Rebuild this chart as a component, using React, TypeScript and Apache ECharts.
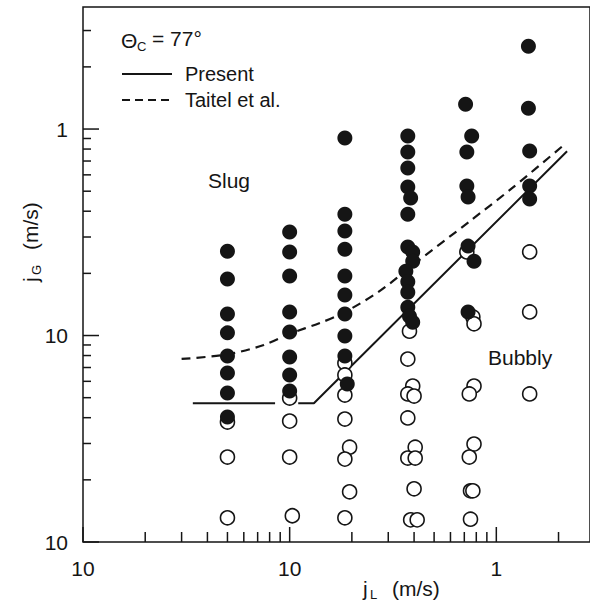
import React, { useEffect, useRef } from "react";
import * as echarts from "echarts";

const INK = "#151515";
const FONT = "'Liberation Sans', Arial, sans-serif";

const X_MIN = 0.01;
const X_MAX = 2.84;
const Y_MIN = 0.01;
const Y_MAX = 3.9;

const xMajorTicks = [0.01, 0.1, 1];
const xMajorLabels = ["10", "10", "1"];
const xMinorTicks = [0.02, 0.03, 0.04, 0.05, 0.06, 0.07, 0.08, 0.09, 0.2, 0.3, 0.4, 0.5, 0.6, 0.7, 0.8, 0.9, 2];
const yMajorTicks = [0.01, 0.1, 1];
const yMajorLabels = ["10", "10", "1"];
const yMinorTicks = [0.02, 0.03, 0.04, 0.05, 0.06, 0.07, 0.08, 0.09, 0.2, 0.3, 0.4, 0.5, 0.6, 0.7, 0.8, 0.9, 2, 3];

// Slug flow (filled circles): [jL, jG]
const slugPoints: [number, number][] = [
  [0.05, 0.256], [0.05, 0.188], [0.05, 0.127], [0.05, 0.103], [0.05, 0.0796], [0.05, 0.0658], [0.05, 0.0527], [0.05, 0.0403],
  [0.1, 0.317], [0.1, 0.254], [0.1, 0.194], [0.1, 0.13], [0.1, 0.104], [0.1, 0.0787], [0.1, 0.0644], [0.1, 0.0539],
  [0.185, 0.904], [0.185, 0.387], [0.185, 0.321], [0.185, 0.262], [0.185, 0.194], [0.185, 0.157], [0.185, 0.127], [0.185, 0.0995], [0.185, 0.0796], [0.19, 0.0582],
  [0.373, 0.925], [0.373, 0.774], [0.373, 0.647], [0.373, 0.524], [0.385, 0.463], [0.373, 0.387], [0.373, 0.268], [0.394, 0.254], [0.394, 0.229], [0.365, 0.205], [0.373, 0.182], [0.373, 0.162], [0.373, 0.137], [0.38, 0.124], [0.394, 0.116],
  [0.71, 1.32], [0.76, 0.925], [0.72, 0.774], [0.72, 0.53], [0.73, 0.469], [0.73, 0.271], [0.78, 0.229], [0.73, 0.13],
  [1.43, 2.52], [1.43, 1.26], [1.45, 0.782], [1.45, 0.53], [1.45, 0.458],
];

// Bubbly flow (open circles): [jL, jG]
const bubblyPoints: [number, number][] = [
  [0.05, 0.0381], [0.05, 0.0258], [0.05, 0.0131],
  [0.1, 0.0498], [0.1, 0.0385], [0.1, 0.0258], [0.103, 0.0134],
  [0.185, 0.0736], [0.185, 0.0644], [0.185, 0.0515], [0.185, 0.0394], [0.195, 0.0288], [0.185, 0.0252], [0.195, 0.0175], [0.185, 0.0131],
  [0.38, 0.105], [0.373, 0.0769], [0.394, 0.0569], [0.373, 0.0521], [0.4, 0.0509], [0.373, 0.0399], [0.405, 0.0288], [0.373, 0.0255], [0.405, 0.0255], [0.4, 0.0181], [0.385, 0.0128], [0.414, 0.0128],
  [0.72, 0.254], [0.77, 0.123], [0.78, 0.114], [0.78, 0.0569], [0.74, 0.0521], [0.78, 0.0298], [0.74, 0.0258], [0.75, 0.0177], [0.77, 0.0177], [0.75, 0.0129],
  [1.45, 0.254], [1.45, 0.13], [1.45, 0.0521],
];

// Present model transition line (two pieces, gap near jL = 0.1)
const presentLeft: [number, number][] = [[0.034, 0.047], [0.085, 0.047]];
const presentRight: [number, number][] = [[0.11, 0.047], [0.131, 0.047], [2.2, 0.78]];

// Taitel et al. transition curve
const taitelCurve: [number, number][] = [
  [0.03, 0.077], [0.05, 0.081], [0.075, 0.09], [0.1, 0.102], [0.14, 0.115], [0.18, 0.128],
  [0.27, 0.163], [0.4, 0.222], [0.75, 0.36], [1.2, 0.52], [2.13, 0.84],
];

function tickSeries(values: number[], axis: "x" | "y", len: number) {
  return {
    type: "custom",
    coordinateSystem: "cartesian2d",
    silent: true,
    clip: false,
    z: 6,
    data: values.map((v) => (axis === "x" ? [v, Y_MIN] : [X_MIN, v])),
    renderItem: (_params: any, api: any) => {
      const p = api.coord([api.value(0), api.value(1)]);
      const shape =
        axis === "x"
          ? { x1: p[0], y1: p[1], x2: p[0], y2: p[1] - len }
          : { x1: p[0], y1: p[1], x2: p[0] + len, y2: p[1] };
      return { type: "line", shape, style: { stroke: INK, lineWidth: 1.5 } };
    },
  };
}

function labelSeries(values: number[], labels: string[], axis: "x" | "y") {
  return {
    type: "custom",
    coordinateSystem: "cartesian2d",
    silent: true,
    clip: false,
    z: 6,
    data: values.map((v) => (axis === "x" ? [v, Y_MIN] : [X_MIN, v])),
    renderItem: (params: any, api: any) => {
      const p = api.coord([api.value(0), api.value(1)]);
      return {
        type: "text",
        x: axis === "x" ? p[0] : p[0] - 15,
        y: axis === "x" ? p[1] + 26 : p[1],
        style: {
          text: labels[params.dataIndex],
          fill: INK,
          font: `21px ${FONT}`,
          align: axis === "x" ? "center" : "right",
          verticalAlign: "middle",
        },
      };
    },
  };
}

export default function App() {
  const ref = useRef<HTMLDivElement>(null);

  useEffect(() => {
    if (!ref.current) return;
    const chart = echarts.init(ref.current, null, { renderer: "svg" });
    const txt = (text: string, x: number, y: number, size: number, extra: any = {}) => ({
      type: "text",
      x,
      y,
      style: { text, fill: INK, font: `${size}px ${FONT}`, verticalAlign: "middle", ...extra },
    });
    chart.setOption({
      animation: false,
      backgroundColor: "#ffffff",
      grid: {
        left: 83,
        top: 7,
        right: -2,
        bottom: 61,
        show: true,
        borderColor: INK,
        borderWidth: 1.5,
        backgroundColor: "transparent",
      },
      xAxis: {
        type: "log",
        logBase: 10,
        min: X_MIN,
        max: X_MAX,
        axisLine: { show: false },
        axisTick: { show: false },
        axisLabel: { show: false },
        splitLine: { show: false },
      },
      yAxis: {
        type: "log",
        logBase: 10,
        min: Y_MIN,
        max: Y_MAX,
        axisLine: { show: false },
        axisTick: { show: false },
        axisLabel: { show: false },
        splitLine: { show: false },
      },
      series: [
        {
          type: "line",
          data: presentLeft,
          showSymbol: false,
          silent: true,
          z: 1,
          lineStyle: { color: INK, width: 2 },
        },
        {
          type: "line",
          data: presentRight,
          showSymbol: false,
          silent: true,
          z: 1,
          lineStyle: { color: INK, width: 2 },
        },
        {
          type: "line",
          data: taitelCurve,
          showSymbol: false,
          smooth: 0.3,
          silent: true,
          z: 1,
          lineStyle: { color: INK, width: 2.2, type: [9, 6] },
        },
        {
          type: "scatter",
          data: bubblyPoints,
          symbol: "circle",
          symbolSize: 14,
          z: 2,
          itemStyle: { color: "#ffffff", borderColor: INK, borderWidth: 1.6, opacity: 1 },
        },
        {
          type: "scatter",
          data: slugPoints,
          symbol: "circle",
          symbolSize: 15,
          z: 3,
          itemStyle: { color: INK, opacity: 1 },
        },
        tickSeries(xMajorTicks, "x", 15),
        tickSeries(xMinorTicks, "x", 10),
        tickSeries(yMajorTicks, "y", 16),
        tickSeries(yMinorTicks, "y", 8),
        labelSeries(xMajorTicks, xMajorLabels, "x"),
        labelSeries(yMajorTicks, yMajorLabels, "y"),
      ],
      graphic: [
        txt("Θ", 121, 40, 21),
        txt("C", 137, 46, 13),
        txt("= 77°", 152, 38, 21),
        { type: "line", shape: { x1: 122, y1: 74, x2: 172, y2: 74 }, style: { stroke: INK, lineWidth: 2 } },
        txt("Present", 185, 74, 20),
        { type: "line", shape: { x1: 122, y1: 100, x2: 172, y2: 100 }, style: { stroke: INK, lineWidth: 2, lineDash: [8, 5] } },
        txt("Taitel et al.", 185, 100, 20),
        txt("Slug", 208, 180, 21),
        txt("Bubbly", 488, 357, 21),
        {
          type: "group",
          x: 410,
          y: 588,
          children: [
            txt("j", -47, 0, 21),
            txt("L", -40, 6, 13),
            txt("(m/s)", -18, 0, 21),
          ],
        },
        {
          type: "group",
          x: 30,
          y: 232,
          rotation: Math.PI / 2,
          children: [
            txt("j", -50, 0, 21),
            txt("G", -43, 6, 13),
            txt("(m/s)", -18, 0, 21),
          ],
        },
      ],
    });
    return () => chart.dispose();
  }, []);

  return (
    <div
      ref={ref}
      style={{ position: "fixed", left: 0, top: 0, width: 590, height: 603, background: "#fff" }}
    />
  );
}
